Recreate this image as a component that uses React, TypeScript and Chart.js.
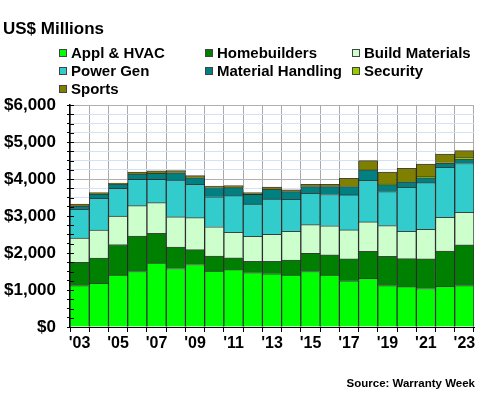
import React, { useEffect, useRef } from "react";
import { Chart, registerables } from "chart.js";

Chart.register(...registerables);

const years = [2003, 2004, 2005, 2006, 2007, 2008, 2009, 2010, 2011, 2012, 2013, 2014, 2015, 2016, 2017, 2018, 2019, 2020, 2021, 2022, 2023];
const xTickLabels = years.map((y) => "'" + String(y).slice(2));

const applHvac = [1120, 1180, 1400, 1500, 1730, 1580, 1690, 1510, 1550, 1470, 1440, 1400, 1500, 1400, 1250, 1315, 1120, 1090, 1040, 1100, 1120];
const homebuilders = [630, 680, 830, 960, 800, 580, 400, 410, 320, 305, 335, 410, 490, 550, 590, 730, 790, 757, 800, 955, 1100];
const buildMaterials = [650, 760, 770, 820, 830, 820, 865, 790, 690, 675, 730, 775, 775, 785, 785, 795, 830, 740, 800, 910, 880];
const powerGen = [780, 860, 750, 710, 630, 990, 900, 810, 990, 875, 955, 865, 850, 845, 945, 1125, 920, 1190, 1260, 1350, 1320];
const materialHandling = [90, 110, 110, 140, 160, 200, 180, 250, 215, 260, 260, 210, 180, 215, 225, 280, 190, 140, 130, 110, 120];
const security = [0, 0, 0, 0, 0, 0, 0, 0, 0, 0, 0, 0, 0, 0, 0, 0, 10, 10, 40, 20, 45];
const sports = [55, 45, 30, 55, 70, 55, 55, 40, 60, 45, 60, 45, 60, 60, 225, 250, 330, 360, 330, 230, 180];

const seriesNames = ["Appl & HVAC", "Homebuilders", "Build Materials", "Power Gen", "Material Handling", "Security", "Sports"];
const seriesColors = ["#00FF00", "#008000", "#CCFFCC", "#33CCCC", "#008080", "#99CC00", "#808000"];
const seriesData = [applHvac, homebuilders, buildMaterials, powerGen, materialHandling, security, sports];

const yMax = 6000;
const yStep = 250;
const yLabelStep = 1000;

const FONT = "'Liberation Sans', Arial, sans-serif";

const textPlugin = {
  id: "customText",
  afterDraw(chart: any) {
    const ctx = chart.ctx;
    ctx.save();
    // inner tick marks on the y axis
    const ys = chart.scales.y;
    const left = chart.chartArea.left;
    ctx.strokeStyle = "#000";
    ctx.lineWidth = 1;
    ys.ticks.forEach((t: any) => {
      const py = Math.round(ys.getPixelForValue(t.value)) + 0.5;
      ctx.beginPath();
      ctx.moveTo(left, py);
      ctx.lineTo(left + 4, py);
      ctx.stroke();
    });

    ctx.fillStyle = "#000";
    ctx.textBaseline = "middle";
    ctx.textAlign = "left";
    ctx.font = `bold 17px ${FONT}`;
    ctx.fillText("US$ Millions", 3, 29);

    const colX = [59, 205, 352];
    const rowY = [53, 71, 89];
    ctx.font = `bold 15px ${FONT}`;
    chart.data.datasets.forEach((ds: any, i: number) => {
      const cx = colX[i % 3];
      const cy = rowY[Math.floor(i / 3)];
      ctx.fillStyle = ds.backgroundColor;
      ctx.fillRect(cx, cy - 4, 8, 8);
      ctx.strokeStyle = "#444";
      ctx.lineWidth = 1;
      ctx.strokeRect(cx + 0.5, cy - 3.5, 7, 7);
      ctx.fillStyle = "#000";
      ctx.fillText(ds.label, cx + 12, cy + 0.5);
    });

    ctx.font = `bold 11.5px ${FONT}`;
    ctx.textAlign = "right";
    ctx.fillText("Source: Warranty Week", 475, 384);
    ctx.restore();
  },
};

export default function App() {
  const ref = useRef<HTMLCanvasElement>(null);
  useEffect(() => {
    if (!ref.current) return;
    const chart = new Chart(ref.current, {
      type: "bar",
      data: {
        labels: xTickLabels,
        datasets: seriesNames.map((name, i) => ({
          label: name,
          data: seriesData[i],
          backgroundColor: seriesColors[i],
          borderColor: "rgba(20,20,20,0.8)",
          borderWidth: 1,
          barPercentage: 1,
          categoryPercentage: 1,
        })),
      },
      options: {
        responsive: false,
        animation: false,
        layout: { padding: { top: 105, right: 6, left: 0, bottom: 0 } },
        plugins: {
          legend: { display: false },
          title: { display: false },
          tooltip: { enabled: false },
        },
        scales: {
          x: {
            stacked: true,
            afterFit: (s: any) => {
              s.height = 73;
            },
            grid: {
              offset: true,
              color: "#aaaaaa",
              tickColor: "#000",
              tickLength: 5,
            },
            border: { color: "#000", width: 1 },
            ticks: {
              autoSkip: false,
              maxRotation: 0,
              padding: 2,
              color: "#000",
              font: { family: FONT, size: 16, weight: "bold" },
              callback: (_v: any, i: number) => (i % 2 === 0 ? xTickLabels[i] : ""),
            },
          },
          y: {
            stacked: true,
            min: 0,
            max: yMax,
            afterFit: (s: any) => {
              s.width = 70;
            },
            grid: {
              color: (c: any) => (c.tick && c.tick.value % yLabelStep === 0 ? "#b0b0b0" : "#cfe2f7"),
              tickColor: "#000",
              tickLength: 3,
            },
            border: { color: "#000", width: 1.5 },
            ticks: {
              stepSize: yStep,
              autoSkip: false,
              padding: 11,
              color: "#000",
              font: { family: FONT, size: 17, weight: "bold" },
              callback: (v: any) => (Number(v) % yLabelStep === 0 ? "$" + Number(v).toLocaleString("en-US") : ""),
            },
          },
        },
      },
      plugins: [textPlugin],
    } as any);
    return () => chart.destroy();
  }, []);
  return (
    <div style={{ position: "fixed", left: 0, top: 0, width: 480, height: 400, background: "#fff" }}>
      <canvas ref={ref} width={480} height={400} />
    </div>
  );
}
